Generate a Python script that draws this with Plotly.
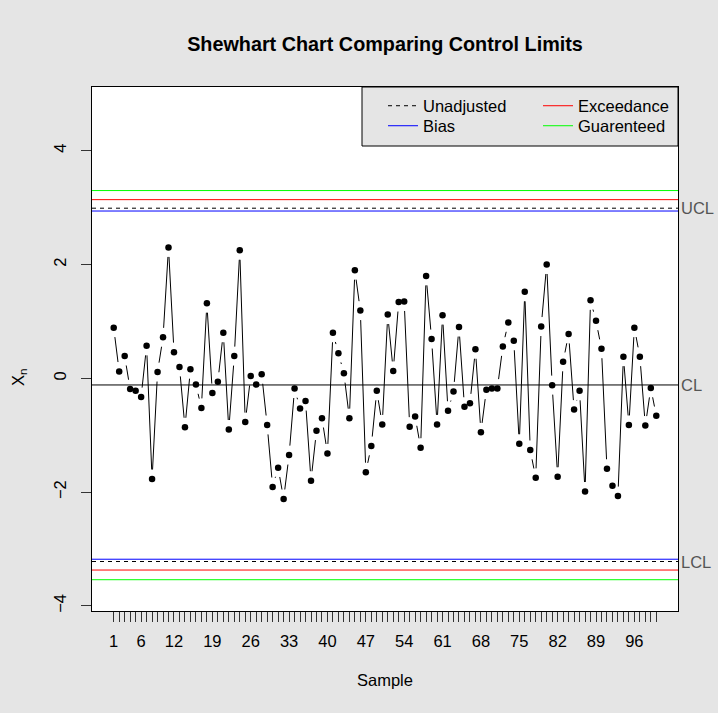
import math
import plotly.graph_objects as go

# ---------------- data ----------------
SAMPLES = list(range(1, 101))
VALUES = [
    0.89, 0.12, 0.39, -0.19, -0.22, -0.33, 0.57, -1.77, 0.11, 0.72,
    2.30, 0.46, 0.20, -0.86, 0.16, -0.11, -0.52, 1.32, -0.26, -0.06,
    0.80, -0.90, 0.39, 2.25, -0.77, 0.04, -0.11, 0.07, -0.82, -1.91,
    -1.57, -2.12, -1.35, -0.18, -0.53, -0.40, -1.80, -0.92, -0.70, -1.32,
    0.80, 0.44, 0.09, -0.70, 1.90, 1.19, -1.65, -1.19, -0.22, -0.81,
    1.12, 0.13, 1.34, 1.35, -0.85, -0.67, -1.22, 1.80, 0.69, -0.81,
    1.11, -0.57, -0.23, 0.90, -0.50, -0.44, 0.51, -0.95, -0.20, -0.18,
    -0.18, 0.56, 0.98, 0.66, -1.15, 1.52, -1.26, -1.75, 0.91, 2.00,
    -0.12, -1.73, 0.29, 0.78, -0.55, -0.22, -1.99, 1.37, 1.01, 0.52,
    -1.59, -1.89, -2.07, 0.38, -0.82, 0.89, 0.38, -0.83, -0.17, -0.66,
]
X_TICK_LABELS = [1, 6, 12, 19, 26, 33, 40, 47, 54, 61, 68, 75, 82, 89, 96]
Y_TICKS = [-4, -2, 0, 2, 4]

CENTER = -0.117
LIMIT_NAMES = ["Unadjusted", "Bias", "Exceedance", "Guarenteed"]
LCL = [-3.22, -3.18, -3.37, -3.54]
UCL = [2.99, 2.94, 3.14, 3.30]

# ---------------- styling ----------------
LIMIT_COLORS = ["#000000", "#0000FF", "#FF0000", "#00FF00"]
LIMIT_DASH = ["4px,4px", "solid", "solid", "solid"]
LIMIT_LEGEND = ["legend", "legend2", "legend", "legend2"]

W, H = 718, 713
ML, MR, MT, MB = 92, 40, 87, 102
X_RANGE = [-2.96, 103.96]
Y_RANGE = [-4.09, 5.12]
FONT = "Liberation Sans, Arial, Helvetica, sans-serif"
FS = 16.5
BG = "#E5E5E5"

PW = W - ML - MR
PH = H - MT - MB
SX = PW / (X_RANGE[1] - X_RANGE[0])
SY = PH / (Y_RANGE[1] - Y_RANGE[0])
GAP = 9.5  # px gap around points (R type="b")

seg_x, seg_y = [], []
for i in range(len(SAMPLES) - 1):
    x0, y0 = SAMPLES[i], VALUES[i]
    x1, y1 = SAMPLES[i + 1], VALUES[i + 1]
    L = math.hypot((x1 - x0) * SX, (y1 - y0) * SY)
    if L > 2 * GAP:
        f = GAP / L
        seg_x += [x0 + f * (x1 - x0), x1 - f * (x1 - x0), None]
        seg_y += [y0 + f * (y1 - y0), y1 - f * (y1 - y0), None]

fig = go.Figure()

# limit lines
for name, lo, hi, col, dash, lg in zip(LIMIT_NAMES, LCL, UCL, LIMIT_COLORS, LIMIT_DASH, LIMIT_LEGEND):
    fig.add_trace(go.Scatter(
        x=[X_RANGE[0], X_RANGE[1], None, X_RANGE[0], X_RANGE[1]],
        y=[hi, hi, None, lo, lo],
        mode="lines", line=dict(color=col, width=1, dash=dash),
        name=name, legend=lg, hoverinfo="skip", cliponaxis=True,
    ))

# center line
fig.add_trace(go.Scatter(
    x=[X_RANGE[0], X_RANGE[1]], y=[CENTER, CENTER], mode="lines",
    line=dict(color="#000000", width=1), showlegend=False, hoverinfo="skip",
))

# data line with gaps
fig.add_trace(go.Scatter(
    x=seg_x, y=seg_y, mode="lines", line=dict(color="#000000", width=1),
    showlegend=False, hoverinfo="skip", connectgaps=False,
))
# points
fig.add_trace(go.Scatter(
    x=SAMPLES, y=VALUES, mode="markers",
    marker=dict(color="#000000", size=6.5, line=dict(width=0)),
    showlegend=False,
))

# right-side labels
for txt, yv in [("UCL", UCL[0]), ("CL", CENTER), ("LCL", LCL[0])]:
    fig.add_annotation(
        x=1, xref="paper", y=yv, yref="y", text=txt, showarrow=False,
        xanchor="left", yanchor="middle", xshift=1,
        font=dict(family=FONT, size=FS, color="#555555"),
    )

# axis titles
fig.add_annotation(
    x=0.5, xref="paper", y=(MB - 69) / PH - MB / PH, yref="paper",
    text="Sample", showarrow=False, xanchor="center", yanchor="middle",
    font=dict(family=FONT, size=FS, color="#000000"),
)
fig.add_annotation(
    x=(19 - ML) / PW, xref="paper", y=(H - MB - 378) / PH, yref="paper",
    text="X<sub>n</sub>", showarrow=False, xanchor="center", yanchor="middle",
    textangle=-90, font=dict(family=FONT, size=FS, color="#000000"),
)

# legend box
fig.add_shape(
    type="rect", xref="paper", yref="paper",
    x0=(362 - ML) / PW, x1=1, y0=(H - MB - 146) / PH, y1=1,
    fillcolor=BG, line=dict(color="#000000", width=1), layer="above",
)

leg_common = dict(
    orientation="h", xanchor="left", yanchor="middle",
    x=(383 - ML) / PW, bgcolor="rgba(0,0,0,0)", borderwidth=0,
    font=dict(family=FONT, size=FS, color="#000000"),
    entrywidth=110, entrywidthmode="pixels", itemclick=False, itemdoubleclick=False,
)

fig.update_layout(
    width=W, height=H,
    margin=dict(l=ML, r=MR, t=MT, b=MB, pad=0),
    paper_bgcolor=BG, plot_bgcolor="#FFFFFF",
    font=dict(family=FONT, size=FS, color="#000000"),
    title=dict(
        text="<b>Shewhart Chart Comparing Control Limits</b>",
        x=(ML + PW / 2) / W, xanchor="center", xref="container",
        y=1 - 44.5 / H, yanchor="middle", yref="container",
        font=dict(family=FONT, size=19.8, color="#000000"),
    ),
    legend=dict(y=(H - MB - 106) / PH, **leg_common),
    legend2=dict(y=(H - MB - 126) / PH, **leg_common),
    showlegend=True,
    xaxis=dict(
        range=X_RANGE, autorange=False, showgrid=False, zeroline=False,
        showline=True, linecolor="#000000", linewidth=1, mirror=True,
        tickmode="array", tickvals=SAMPLES,
        ticktext=[str(s) if s in X_TICK_LABELS else "" for s in SAMPLES],
        ticks="outside", ticklen=10, tickwidth=1, tickcolor="#333333",
        tickangle=0, ticklabelstandoff=5,
        tickfont=dict(family=FONT, size=FS, color="#000000"),
    ),
    yaxis=dict(
        range=Y_RANGE, autorange=False, showgrid=False, zeroline=False,
        showline=True, linecolor="#000000", linewidth=1, mirror=True,
        tickmode="array", tickvals=Y_TICKS,
        ticks="outside", ticklen=10, tickwidth=1, tickcolor="#333333",
        tickangle=-90, ticklabelstandoff=8,
        tickfont=dict(family=FONT, size=FS, color="#000000"),
    ),
)

fig.write_html("out.html")
